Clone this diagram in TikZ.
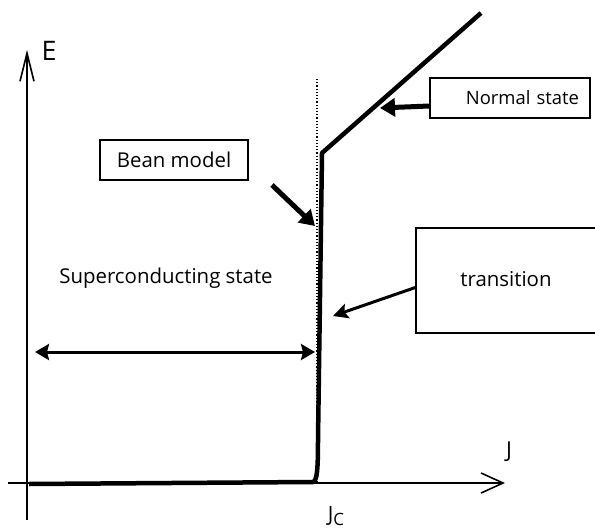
\documentclass[tikz,border=0pt]{standalone}
\usepackage{fontspec}
\setmainfont{Open Sans}
\usetikzlibrary{arrows.meta,positioning}
\begin{document}
\begin{tikzpicture}[x=1bp,y=-1bp,
  box/.style={draw,line width=1.3bp,font=\fontsize{20.5}{24}\selectfont,inner sep=0pt},
  lbl/.style={font=\fontsize{20.5}{24}\selectfont,inner sep=0pt},
  axl/.style={font=\fontsize{22}{26}\selectfont,inner sep=0pt},
  axis/.style={line width=1.6bp},
  curve/.style={line width=4.5bp,line join=round},
  fat/.style={line width=5bp,-{Triangle[length=15bp,width=18bp]}},
  mid/.style={line width=3bp,-{Stealth[length=15bp,width=15bp,inset=3bp]}},
  both/.style={line width=3bp,{Stealth[length=14bp,width=16bp,inset=2bp]}-{Stealth[length=14bp,width=16bp,inset=2bp]}}]
\useasboundingbox (0,0) rectangle (595,529);
% axes
\coordinate (Ebot) at (27,520);
\coordinate (Etop) at (27,50);
\coordinate (Jleft) at (8,483);
\coordinate (Jright) at (505,483);
\draw[axis,-{Straight Barb[length=28bp,width=14bp,line width=1.6bp]}] (Ebot) -- (Etop);
\draw[axis,-{Straight Barb[length=22bp,width=20bp,line width=1.6bp]}] (Jleft) -- (Jright);
\node[axl,font=\fontsize{27}{30}\selectfont] (E) at (49,51) {E};
\node[axl] (J) at (509,452) {J};
\node[axl,font=\fontsize{21}{24}\selectfont] (Jc) at (336,516)
  {J\raisebox{-3.5bp}{\fontsize{17}{17}\selectfont C}};
% critical current
\coordinate (Ctop) at (317,79);
\coordinate (Cbot) at (317,483);
\draw[dotted,line width=1.2bp] (Ctop) -- (Cbot);
% E-J curve
\coordinate (c0) at (29,484);
\coordinate (c1) at (313,482);
\coordinate (c2) at (318,440);
\coordinate (c3) at (322,153);
\coordinate (c4) at (481,13);
\draw[curve] (c0) -- (c1) .. controls (317,481) and (318,470) .. (c2) -- (c3) -- (c4);
% labels
\node[box,font=\fontsize{18.5}{21}\selectfont,minimum width=160bp,minimum height=40bp,
  text width=138bp,inner xsep=11bp,align=right] (normal) at (510,98) {Normal state};
\node[box,minimum width=148bp,minimum height=40bp] (bean) at (174,160) {Bean model};
\node[box,minimum width=190bp,minimum height=105bp] (trans) at (511,280.5) {};
\node[lbl] (transtxt) at (506,279) {transition};
\node[lbl] (sc) at (166,278) {Superconducting state};
% arrows
\coordinate (nTip) at (380,108);
\coordinate (bStart) at (272,185);
\coordinate (bTip) at (315,226);
\coordinate (tTip) at (333,316);
\coordinate (dL) at (35,352);
\coordinate (dR) at (315,352);
\draw[fat] ([yshift=-8bp]normal.west) -- (nTip);
\draw[fat] (bStart) -- (bTip);
\draw[mid] ([yshift=-7bp]trans.west) -- (tTip);
\draw[both] (dL) -- (dR);
\end{tikzpicture}
\end{document}
